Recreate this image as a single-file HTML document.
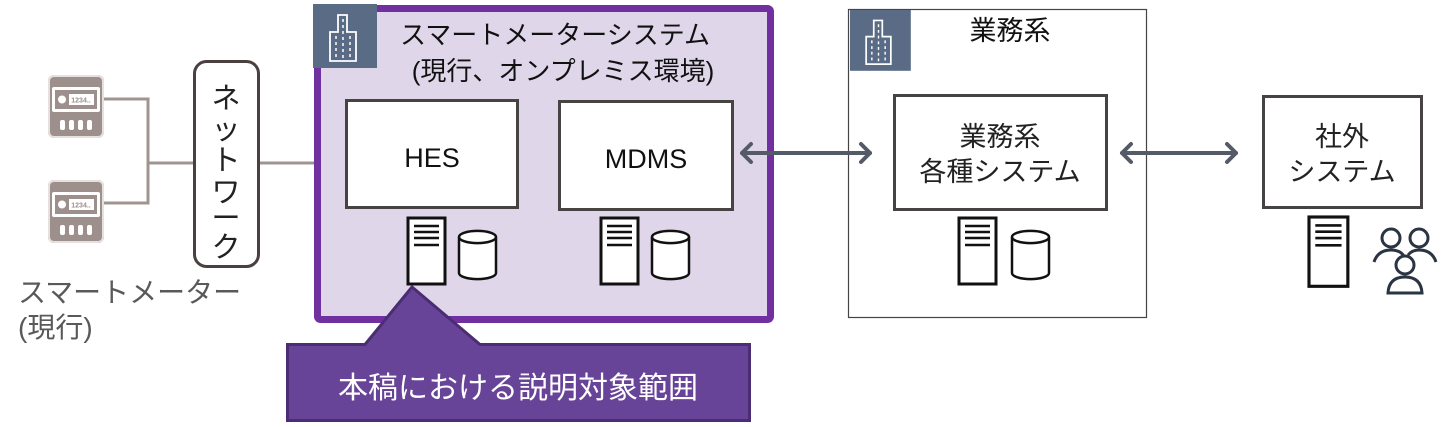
<!DOCTYPE html>
<html><head><meta charset="utf-8"><style>
html,body{margin:0;padding:0;background:#fff;}
svg{display:block;}
text{font-family:"Liberation Sans","Noto Sans CJK JP",sans-serif;}
</style></head><body>
<svg width="1443" height="427" viewBox="0 0 1443 427" xmlns="http://www.w3.org/2000/svg">
<defs>
  <g id="server">
    <rect x="0" y="0" width="37" height="66" fill="#fff" stroke="#111" stroke-width="3"/>
    <line x1="6" y1="8" x2="31" y2="8" stroke="#111" stroke-width="2.5"/>
    <line x1="6" y1="14" x2="31" y2="14" stroke="#111" stroke-width="2.5"/>
    <line x1="6" y1="20" x2="31" y2="20" stroke="#111" stroke-width="2.5"/>
    <line x1="6" y1="27" x2="31" y2="27" stroke="#111" stroke-width="2.5"/>
  </g>
  <g id="db">
    <path d="M0 7 A18 6 0 0 1 37 7 L37 43 A18 6 0 0 1 0 43 Z" fill="#fff" stroke="#111" stroke-width="2.5"/>
    <path d="M0 7 A18 6 0 0 0 37 7" fill="none" stroke="#111" stroke-width="2.5"/>
  </g>
  <g id="bldg">
    <rect x="0" y="0" width="64" height="64" fill="#5a6b85"/>
    <path d="M25 11 H34 V28 H43 V57 H17 V28 H25 Z" fill="none" stroke="#fff" stroke-width="1.8"/>
    <g stroke="#fff" stroke-width="1.5" stroke-dasharray="3 3">
      <line x1="23" y1="32" x2="23" y2="54"/><line x1="30" y1="15" x2="30" y2="54"/><line x1="37" y1="32" x2="37" y2="54"/>
    </g>
  </g>
  <g id="meter">
    <rect x="0" y="0" width="56" height="63" rx="6" fill="#9c8f8c"/>
    <rect x="1" y="1" width="54" height="61" rx="5" fill="none" stroke="#e6e0de" stroke-width="2"/>
    <rect x="4" y="12" width="48" height="25" rx="2" fill="#fff"/>
    <rect x="7" y="15" width="42" height="19" fill="#9c8f8c"/>
    <circle cx="14" cy="24.5" r="4" fill="#fff"/>
    <rect x="21" y="19" width="25" height="11" fill="#fff"/>
    <text x="33" y="27.5" font-size="7" fill="#9c8f8c" text-anchor="middle" font-weight="bold">1234..</text>
    <g fill="#fff"><rect x="12" y="45" width="5" height="10" rx="2"/><rect x="21" y="45" width="5" height="10" rx="2"/><rect x="30" y="45" width="5" height="10" rx="2"/><rect x="39" y="45" width="5" height="10" rx="2"/></g>
  </g>
</defs>

<!-- meters and network -->
<use href="#meter" x="48" y="75"/>
<use href="#meter" x="48" y="180"/>
<polyline points="104,99 148,99 148,203 104,203" fill="none" stroke="#a09490" stroke-width="3"/>
<line x1="148" y1="163" x2="195" y2="163" stroke="#a09490" stroke-width="3"/>
<line x1="259" y1="163" x2="318" y2="163" stroke="#a09490" stroke-width="3"/>
<rect x="194.5" y="61.5" width="64" height="205" rx="12" fill="#fff" stroke="#4a4040" stroke-width="3"/>
<g font-size="29" fill="#222" text-anchor="middle">
  <text x="226" y="108">ネ</text><text x="226" y="139">ッ</text><text x="226" y="170">ト</text><text x="226" y="202">ワ</text><text x="226" y="228">ー</text><text x="226" y="257">ク</text>
</g>
<text x="18" y="302" font-size="28" fill="#595959">スマートメーター</text>
<text x="18" y="337" font-size="28" fill="#595959">(現行)</text>

<!-- smart meter system -->
<rect x="317.5" y="8.5" width="453" height="311" rx="3" fill="#e0d6ea" stroke="#7030a0" stroke-width="7"/>
<use href="#bldg" x="313" y="4"/>
<text x="555" y="44" font-size="26" fill="#111" text-anchor="middle">スマートメーターシステム</text>
<text x="563" y="80" font-size="26" fill="#111" text-anchor="middle">(現行、オンプレミス環境)</text>
<rect x="346.5" y="100.5" width="171" height="107" fill="#fff" stroke="#474343" stroke-width="3"/>
<text x="432" y="167" font-size="27" fill="#111" text-anchor="middle">HES</text>
<rect x="559.5" y="101.5" width="173" height="108" fill="#fff" stroke="#474343" stroke-width="3"/>
<text x="646" y="168" font-size="27" fill="#111" text-anchor="middle">MDMS</text>
<use href="#server" x="408" y="218"/>
<use href="#db" x="459" y="230"/>
<use href="#server" x="601" y="218"/>
<use href="#db" x="652" y="230"/>

<!-- callout -->
<path d="M287.5 344.5 H365 L412 287 L480 344.5 H749.5 V420.5 H287.5 Z" fill="#684498" stroke="#4b2d73" stroke-width="3"/>
<text x="518" y="398" font-size="30" fill="#fff" text-anchor="middle">本稿における説明対象範囲</text>

<!-- business -->
<rect x="848.5" y="9.5" width="298" height="308" fill="#fff" stroke="#444" stroke-width="1.2"/>
<use href="#bldg" x="850" y="10" transform="translate(850,10) scale(0.95) translate(-850,-10)"/>
<text x="1010" y="40" font-size="27" fill="#111" text-anchor="middle">業務系</text>
<rect x="894.5" y="95.5" width="212" height="114" fill="#fff" stroke="#474343" stroke-width="3"/>
<text x="1000" y="146" font-size="27" fill="#222" text-anchor="middle">業務系</text>
<text x="1000" y="181" font-size="27" fill="#222" text-anchor="middle">各種システム</text>
<use href="#server" x="959" y="218"/>
<use href="#db" x="1012" y="230"/>

<!-- external -->
<rect x="1263.5" y="96.5" width="158" height="111" fill="#fff" stroke="#474343" stroke-width="3"/>
<text x="1342" y="146" font-size="27" fill="#222" text-anchor="middle">社外</text>
<text x="1342" y="181" font-size="27" fill="#222" text-anchor="middle">システム</text>
<use href="#server" x="1309" y="217" transform="translate(1309,217) scale(1.05) translate(-1309,-217)"/>
<g fill="none" stroke="#2b3442" stroke-width="3">
  <circle cx="1391" cy="238" r="9"/>
  <path d="M1374 262 Q1378 250 1391 250 Q1400 250 1404 256"/>
  <circle cx="1419" cy="238" r="9"/>
  <path d="M1408 255 Q1412 250 1419 250 Q1432 250 1436 262"/>
  <circle cx="1405" cy="265" r="9"/>
  <path d="M1388 293 Q1389 277 1405 277 Q1421 277 1422 293 Z"/>
</g>

<!-- arrows (on top) -->
<g stroke="#545b66" stroke-width="4" fill="none" stroke-linecap="round" stroke-linejoin="round">
  <line x1="742" y1="153" x2="870" y2="153"/>
  <polyline points="751,144 742,153 751,162"/><polyline points="861,144 870,153 861,162"/>
  <line x1="1122" y1="153" x2="1236" y2="153"/>
  <polyline points="1131,144 1122,153 1131,162"/><polyline points="1227,144 1236,153 1227,162"/>
</g>
</svg>
</body></html>
